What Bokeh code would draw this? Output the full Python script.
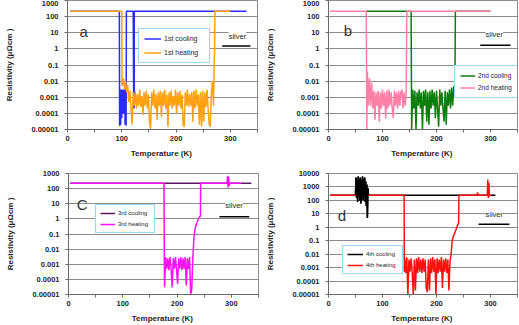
from bokeh.plotting import figure
from bokeh.layouts import column, row
from bokeh.models import (FixedTicker, Legend, LegendItem, Label, Arrow, Range1d,
                          ColumnDataSource)
from bokeh.embed import file_html
from bokeh.resources import INLINE

FONT = "Liberation Sans"

# ---------------- axis ticks / labels ----------------
x_ticks = [0, 100, 200, 300]
x_minor = [50, 150, 250, 350]
y_ticks_3 = [1e-5, 1e-4, 1e-3, 1e-2, 1e-1, 1, 10, 100, 1000]
y_labels_3 = ["0.00001", "0.0001", "0.001", "0.01", "0.1", "1", "10", "100", "1000"]
y_ticks_4 = [1e-5, 1e-4, 1e-3, 1e-2, 1e-1, 1, 10, 100, 1000, 10000]
y_labels_4 = ["0.00001", "0.0001", "0.001", "0.01", "0.1", "1", "10", "100", "1000", "10000"]

# ---------------- panel a : 1st cycle ----------------
a_cool_T = [330, 123, 123, 122, 121, 108.5,
            108, 107.5, 107, 106.5, 106, 105.5, 105, 104.5, 104, 103.5, 103, 102.5,
            102, 101.5, 101, 100.5, 100, 99.5, 99, 98.5, 98, 97.5, 97, 96.5, 96,
            95.5, 5]
a_cool_R = [215, 215, 3e-4, 2e-4, 215, 215,
            1.7e-5, 3e-3, 3e-5, 2.5e-3, 2e-5, 3e-3, 2e-4, 3e-3, 1e-4, 3e-3, 2e-4, 2.5e-3,
            1e-4, 3e-3, 2e-4, 2e-3, 5e-5, 3e-3, 2e-4, 3e-3, 2e-5, 2.5e-3, 2e-4, 2e-5, 1.7e-5,
            215, 215]

a_heat_T = [5, 100, 100.5,
            101, 103, 105, 107, 109, 111, 113, 115, 117, 119, 121, 123, 125, 127, 129,
            131, 133, 135, 137, 139, 141, 143, 145, 147, 149, 151, 153, 155, 157, 159,
            161, 163, 165, 167, 169, 171, 173, 175, 177, 179, 181, 183, 185, 187, 189,
            191, 193, 195, 197, 199, 201, 203, 205, 207, 209, 211, 213, 215, 217, 219,
            221, 223, 225, 227, 229, 231, 233, 235, 237, 239, 241, 243, 245, 247, 249,
            251, 253, 255, 257, 259, 261, 263, 265, 267, 269,
            270, 270.5, 271, 271.5, 300]
a_heat_R = [215, 215, 5e-3,
            8e-3, 1.5e-2, 3e-3, 1e-2, 2e-3, 6e-3, 5e-4, 2.5e-3, 2e-4, 2e-5, 2e-3, 3e-4, 2.5e-3, 2e-4, 1.5e-3,
            3e-4, 3e-3, 2.5e-4, 1.2e-3, 8e-5, 2e-3, 3e-4, 2.5e-3, 2e-4, 1.5e-3, 3e-5, 1e-5, 2e-3, 3e-4, 3e-3,
            2e-4, 1.5e-3, 4e-5, 2e-3, 3e-4, 2.5e-3, 6e-5, 2e-3, 3e-4, 3e-3, 2e-4, 1.5e-3, 1.5e-5, 2e-3, 3e-4,
            2.5e-3, 2e-4, 1.2e-3, 3e-4, 3e-3, 1e-4, 2e-3, 3e-4, 2.5e-3, 2e-4, 1.5e-3, 2e-5, 1.5e-5, 2e-3, 3e-4,
            3e-3, 2.5e-4, 1.5e-3, 3e-4, 2e-3, 3e-5, 2.5e-3, 2e-4, 3e-3, 3e-4, 1.5e-3, 2e-5, 2e-3, 1.5e-5, 2.5e-3,
            3e-5, 2e-3, 2.5e-4, 3e-3, 2e-4, 2e-5, 1.5e-5, 2e-3, 1e-2, 3e-4,
            0.05, 0.3, 0.6, 215, 215]

# ---------------- panel b : 2nd cycle ----------------
b_cool_T = [70, 153,
            154, 156, 158, 160, 162, 164, 166, 168, 170, 172, 174, 176, 178, 180,
            182, 184, 186, 188, 190, 192, 194, 196, 198, 200, 202, 204, 206, 208,
            210, 212, 214, 216, 218, 220, 222, 224, 226, 228, 230, 232, 234,
            235, 300]
b_cool_R = [215, 215,
            1e-5, 3e-3, 2e-4, 2.5e-3, 1e-5, 2e-3, 3e-4, 3e-3, 2e-4, 2e-3, 1e-5, 2.5e-3, 3e-4, 3e-3,
            3e-5, 2e-3, 2e-5, 2.5e-3, 2e-4, 3e-3, 3e-4, 2e-3, 5e-5, 2.5e-3, 2e-4, 1.5e-5, 3e-3, 3e-4,
            2e-3, 2e-4, 3e-5, 2.5e-3, 2e-5, 2e-3, 3e-4, 3e-3, 2e-4, 4e-3, 3e-4, 5e-3, 1.5e-3,
            215, 215]

b_heat_T = [3, 70, 71,
            72, 74, 76, 78, 80, 82, 84, 86, 88, 90, 92, 94, 96, 98, 100, 102, 104,
            106, 108, 110, 112, 114, 116, 118, 120, 122, 124, 126, 128, 130, 132,
            134, 136, 138, 140, 142, 144,
            145, 300]
b_heat_R = [215, 215, 1e-5,
            4e-2, 3e-4, 1.5e-2, 3e-4, 8e-3, 2e-4, 2.5e-3, 4e-5, 2e-3, 3e-4, 2.5e-3, 3e-5, 2e-3, 2e-4, 3e-3, 3e-4, 2e-3,
            5e-5, 2.5e-3, 2e-4, 3e-3, 3e-4, 2e-3, 2e-4, 5e-5, 2.5e-3, 3e-4, 2e-3, 2e-4, 2.5e-3, 3e-4,
            2e-3, 3e-3, 2e-4, 2e-3, 3e-4, 2e-3,
            215, 215]

# ---------------- panel c : 3rd cycle ----------------
c_cool_T = [3, 337]
c_cool_R = [225, 225]

c_heat_T = [3, 176, 176.5,
            177, 179, 181, 183, 185, 187, 189, 191, 193, 195, 197, 199, 201, 203,
            205, 207, 209, 211, 213, 215, 217, 219, 221, 223, 225, 227, 229,
            231, 233, 235, 237, 239, 241, 243, 243.5, 292, 293, 294, 295, 296, 297, 318]
c_heat_R = [225, 225, 2e-3,
            3e-5, 3e-3, 5e-4, 2.5e-3, 4e-4, 3e-3, 5e-4, 3e-5, 2.5e-3, 5e-4, 3e-3, 4e-4, 5e-5, 2.5e-3,
            5e-4, 3e-3, 4e-4, 2.5e-3, 5e-4, 3e-3, 4e-5, 2.5e-3, 5e-4, 3e-3, 1e-5, 2e-5, 2.5e-3,
            0.05, 0.2, 0.4, 0.6, 1.0, 1.3, 1.5, 225, 225, 700, 120, 600, 150, 225, 225]

# ---------------- panel d : 4th cycle ----------------
d_cool_T = [3, 49,
            50, 51, 52, 53, 54, 55, 56, 57, 58, 59, 60, 61, 62, 63, 64, 65, 66, 67,
            68, 69, 70, 71, 72, 73, 74,
            75, 309]
d_cool_R = [245, 245,
            300, 5000, 150, 3000, 80, 6000, 200, 4000, 100, 5000, 60, 3000, 150, 6000, 100, 4000, 200, 5000,
            80, 2500, 40, 1500, 5, 800, 245,
            245, 245]

d_heat_T = [3, 140, 140.5,
            141, 143, 145, 147, 149, 151, 153, 155, 157, 159, 161, 163, 165, 167, 169,
            171, 173, 175, 177, 179, 181, 183, 185, 187, 189, 191, 193, 195, 197, 199,
            201, 203, 205, 207, 209, 211, 213, 215, 217, 219, 221, 223, 225,
            227, 229, 231, 233, 235, 237, 239, 241, 241.5, 275, 276, 277,
            294, 295, 296, 297, 298, 299, 301]
d_heat_R = [245, 245, 5e-4,
            5e-3, 4e-4, 6e-3, 1e-5, 4e-3, 5e-4, 5e-3, 4e-4, 1e-5, 4e-3, 2e-5, 5e-3, 4e-4, 6e-3, 5e-4,
            4e-3, 4e-4, 5e-3, 5e-4, 4e-3, 3e-5, 1.5e-5, 4e-3, 2e-5, 5e-3, 4e-4, 6e-3, 5e-4, 4e-3, 1e-5,
            5e-3, 4e-4, 4e-3, 5e-4, 6e-3, 3e-5, 4e-3, 5e-4, 5e-3, 4e-4, 4e-3, 2e-5, 3e-3,
            0.01, 0.1, 0.2, 0.3, 0.5, 0.8, 1.5, 2, 245, 245, 400, 245,
            245, 3500, 150, 2000, 200, 245, 245]

series_names = ["1st cooling", "1st heating", "2nd cooling", "2nd heating",
                "3rd cooling", "3rd heating", "4th cooling", "4th heating"]
series_colors = ["#2a2aff", "#ffa010", "#0a7d0a", "#ff7fa6",
                 "#5a1a5a", "#ff10ff", "#000000", "#ff1010"]

GRID = "#8c8c8c"
AXIS = "#6a6a6a"
TXT = "#262626"


def make_fig(width, height, xmax, ymax, yticks, ylabels, left, right, top, bottom):
    p = figure(width=width, height=height, x_range=Range1d(0, xmax), y_range=Range1d(1e-5, ymax),
               y_axis_type="log", output_backend="svg", toolbar_location=None, title=None,
               min_border_left=left, min_border_right=right, min_border_top=top,
               min_border_bottom=bottom, background_fill_color="white",
               border_fill_color="white", outline_line_color=GRID)
    p.xgrid.visible = False
    p.ygrid.grid_line_color = GRID
    p.ygrid.grid_line_width = 1
    p.yaxis.ticker = FixedTicker(ticks=yticks)
    p.yaxis.major_label_overrides = dict(zip(yticks, ylabels))
    p.xaxis.ticker = FixedTicker(ticks=x_ticks, minor_ticks=x_minor)
    for ax in (p.xaxis[0], p.yaxis[0]):
        ax.axis_line_color = AXIS
        ax.major_tick_line_color = AXIS
        ax.major_tick_in = 0
        ax.major_tick_out = 3
        ax.minor_tick_in = 0
        ax.minor_tick_out = 3
        ax.major_label_text_font = FONT
        ax.major_label_text_font_size = "7.5px"
        ax.major_label_text_font_style = "bold"
        ax.major_label_text_color = TXT
        ax.axis_label_text_font = FONT
        ax.axis_label_text_font_size = "8px"
        ax.axis_label_text_font_style = "bold"
        ax.axis_label_text_color = TXT
    p.yaxis.minor_tick_line_color = None
    p.xaxis.minor_tick_line_color = AXIS
    p.yaxis.axis_label = "Resistivity (μΩcm )"
    p.xaxis.axis_label = "Temperature  (K)"
    p.yaxis.major_label_standoff = 6
    p.yaxis.axis_label_standoff = 14
    p.xaxis.major_label_standoff = 3
    p.xaxis.axis_label_standoff = 5
    return p


def add_legend(p, r_cool, r_heat, names, loc, font_size, glyph_w, lab_h, pad, spacing, lab_w):
    leg = Legend(items=[LegendItem(label=names[0], renderers=[r_cool]),
                        LegendItem(label=names[1], renderers=[r_heat])],
                 location=loc, orientation="vertical",
                 border_line_color="#33b3e6", border_line_width=1.5,
                 background_fill_color="white", background_fill_alpha=1,
                 label_text_font=FONT, label_text_font_size=font_size,
                 label_text_color=TXT, glyph_width=glyph_w, glyph_height=lab_h,
                 label_height=lab_h, label_width=lab_w, label_standoff=3,
                 padding=pad, spacing=spacing, margin=0)
    p.add_layout(leg)


def add_marks(p, letter, lx, ly, sx, sy, line_x0, line_x1, line_y):
    p.add_layout(Label(x=lx, y=ly, text=letter, text_font=FONT, text_font_size="15px",
                       text_color="#333333", text_align="center", text_baseline="middle"))
    p.add_layout(Label(x=sx, y=sy, text="silver", text_font=FONT, text_font_size="7.5px",
                       text_color=TXT, text_align="center", text_baseline="middle",
                       background_fill_color="white", background_fill_alpha=1))
    p.add_layout(Arrow(end=None, x_start=line_x0, y_start=line_y, x_end=line_x1, y_end=line_y,
                       line_color="black", line_width=1.5))


LW = 1.5

# panel a
pa = make_fig(260, 160, 350, 1000, y_ticks_3, y_labels_3, 67, 3, 0, 30)
ra1 = pa.line(a_cool_T, a_cool_R, line_color=series_colors[0], line_width=LW)
ra2 = pa.line(a_heat_T, a_heat_R, line_color=series_colors[1], line_width=LW)
add_legend(pa, ra1, ra2, series_names[0:2], (71, 66), "7px", 17, 9, 5, 5, 40)
add_marks(pa, "a", 30, 12, 313, 6, 285, 337, 1.5)

# panel b
pb = make_fig(259, 160, 350, 1000, y_ticks_3, y_labels_3, 68, 2, 0, 30)
rb1 = pb.line(b_cool_T, b_cool_R, line_color=series_colors[2], line_width=LW)
rb2 = pb.line(b_heat_T, b_heat_R, line_color=series_colors[3], line_width=LW)
add_legend(pb, rb1, rb2, series_names[2:4], (126, 31), "6.5px", 15, 9, 5, 3, 38)
add_marks(pb, "b", 36, 14, 307, 7.6, 281, 337, 1.7)

# panel c
pc = make_fig(260, 165, 350, 1000, y_ticks_3, y_labels_3, 68, 2, 13, 30)
rc1 = pc.line(c_cool_T, c_cool_R, line_color=series_colors[4], line_width=LW)
rc2 = pc.line(c_heat_T, c_heat_R, line_color=series_colors[5], line_width=LW)
add_legend(pc, rc1, rc2, series_names[4:6], (27, 61), "6px", 15, 8, 4, 3, 32)
add_marks(pc, "C", 25, 8.7, 305, 7.4, 278, 333, 1.4)

# panel d
pd_ = make_fig(259, 165, 350, 10000, y_ticks_4, y_labels_4, 68, 2, 13, 30)
rd1 = pd_.line(d_cool_T, d_cool_R, line_color=series_colors[6], line_width=LW)
rd2 = pd_.line(d_heat_T, d_heat_R, line_color=series_colors[7], line_width=LW)
cluster = ColumnDataSource(dict(x=d_cool_T[2:27], y=d_cool_R[2:27]))
pd_.line("x", "y", source=cluster, line_color=series_colors[6], line_width=LW)
add_legend(pd_, rd1, rd2, series_names[6:8], (14, 20), "6px", 16, 8, 4, 3, 32)
add_marks(pd_, "d", 25, 7.6, 307, 9, 278, 335, 1.7)

layout = column(row(pa, pb, spacing=0), row(pc, pd_, spacing=0), spacing=0)

open("out.html", "w").write(file_html(layout, INLINE))
